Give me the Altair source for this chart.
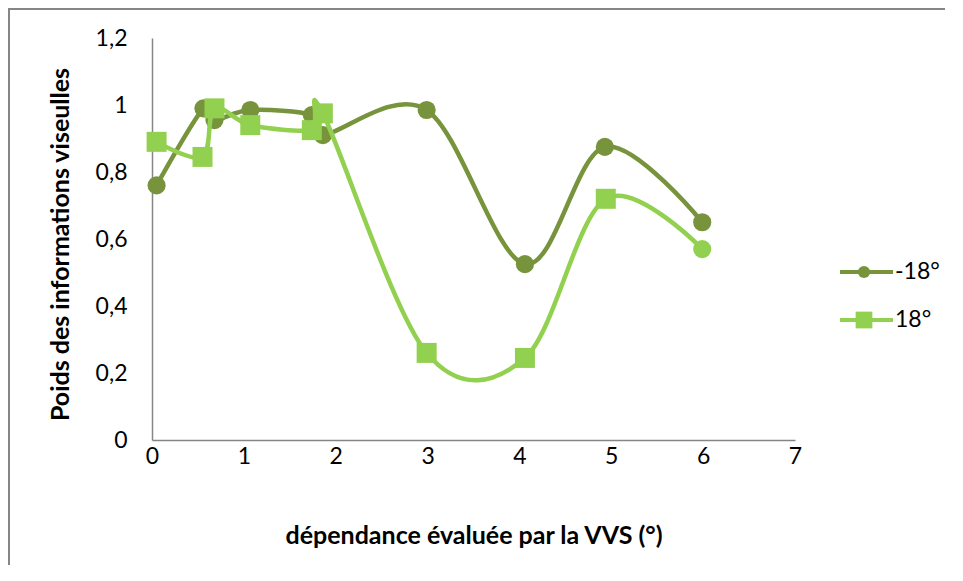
import altair as alt
import pandas as pd

series_names = ["-18°", "18°"]
series_colors = ["#77933C", "#92D050"]

x_m18 = [0.05, 0.56, 0.68, 1.07, 1.74, 1.86, 2.99, 4.06, 4.93, 5.99]
y_m18 = [0.76, 0.99, 0.955, 0.985, 0.97, 0.91, 0.985, 0.525, 0.875, 0.65]
shape_m18 = ["circle"] * 10

x_p18 = [0.05, 0.55, 0.68, 1.07, 1.74, 1.86, 2.99, 4.06, 4.94, 5.99]
y_p18 = [0.89, 0.845, 0.99, 0.94, 0.925, 0.975, 0.26, 0.245, 0.72, 0.57]
shape_p18 = ["square"] * 9 + ["circle"]

x_ticks = [0, 1, 2, 3, 4, 5, 6, 7]
y_ticks = [0, 0.2, 0.4, 0.6, 0.8, 1.0, 1.2]

x_title = "dépendance évaluée par la VVS (°)"
y_title = "Poids des informations viseulles"

FONT = "Lato"
AXIS_GREY = "#868686"
FS = 23
TFS = 25

W, H = 643, 402

frames = []
for name, xs, ys, shapes in [
    (series_names[0], x_m18, y_m18, shape_m18),
    (series_names[1], x_p18, y_p18, shape_p18),
]:
    frames.append(pd.DataFrame({"x": xs, "y": ys, "shape": shapes,
                                "series": name, "order": range(len(xs))}))
df = pd.concat(frames, ignore_index=True)

xscale = alt.Scale(domain=[0, 7], nice=False, zero=False)
yscale = alt.Scale(domain=[0, 1.2], nice=False)
cscale = alt.Scale(domain=series_names, range=series_colors)
sscale = alt.Scale(domain=["circle", "square"], range=["circle", "square"])

xaxis = alt.Axis(values=x_ticks, format="d", title=x_title, ticks=False, grid=False,
                 labelFlush=False, labelOverlap=False,
                 labelFont=FONT, labelFontSize=FS, labelColor="black", labelPadding=5,
                 domainColor=AXIS_GREY, domainWidth=1.5,
                 titleFont=FONT, titleFontSize=TFS, titleFontWeight="bold", titleColor="black",
                 titleX=W / 2, titleY=95, titleBaseline="middle", titleAlign="center")
yaxis = alt.Axis(values=y_ticks, title=y_title, ticks=False, grid=False,
                 labelFlush=False, labelOverlap=False,
                 labelFont=FONT, labelFontSize=FS, labelColor="black", labelPadding=25,
                 labelExpr="replace(format(datum.value, '.1~f'), '.', ',')",
                 domainColor=AXIS_GREY, domainWidth=1.5,
                 titleFont=FONT, titleFontSize=TFS, titleFontWeight="bold", titleColor="black",
                 titleX=-92, titleY=H / 2 + 5, titleAngle=-90, titleBaseline="middle", titleAlign="center")

layers = []
# outer frame
layers.append(alt.Chart(pd.DataFrame({"a": [0]})).mark_rect(
    filled=False, stroke=AXIS_GREY, strokeWidth=2).encode(
    x=alt.value(-143), x2=alt.value(900), y=alt.value(-29), y2=alt.value(600)))

for i, name in enumerate(series_names):
    base = alt.Chart(df).transform_filter(alt.datum.series == name)
    line = base.mark_line(interpolate="cardinal", strokeWidth=4.5).encode(
        x=alt.X("x:Q", scale=xscale, axis=xaxis),
        y=alt.Y("y:Q", scale=yscale, axis=yaxis),
        color=alt.Color("series:N", scale=cscale, legend=None),
        order="order:Q")
    pts = base.mark_point(filled=True, opacity=1).encode(
        x=alt.X("x:Q", scale=xscale),
        y=alt.Y("y:Q", scale=yscale),
        color=alt.Color("series:N", scale=cscale, legend=None),
        shape=alt.Shape("shape:N", scale=sscale, legend=None),
        size=alt.condition(alt.datum.shape == "square", alt.value(400), alt.value(330)))
    layers += [line, pts]

# legend
leg_y = [234, 282]
leg_shapes = ["circle", "square"]
leg_sizes = [150, 280]
for i, name in enumerate(series_names):
    ld = pd.DataFrame({"series": [name]})
    layers.append(alt.Chart(ld).mark_rule(strokeWidth=4, color=series_colors[i]).encode(
        x=alt.value(688), x2=alt.value(741), y=alt.value(leg_y[i])))
    layers.append(alt.Chart(ld).mark_point(filled=True, opacity=1, shape=leg_shapes[i],
                                           color=series_colors[i], size=leg_sizes[i]).encode(
        x=alt.value(712), y=alt.value(leg_y[i])))
    layers.append(alt.Chart(ld).mark_text(align="left", baseline="middle", font=FONT,
                                          fontSize=FS, color="black").encode(
        x=alt.value(743), y=alt.value(leg_y[i]), text="series:N"))

chart = alt.layer(*layers).properties(
    width=W, height=H,
    autosize=alt.AutoSizeParams(type="none"),
    padding={"left": 144, "top": 30, "right": 150, "bottom": 125},
).configure_view(stroke=None)

chart.save("out.html", embed_options={"renderer": "svg", "actions": False})
